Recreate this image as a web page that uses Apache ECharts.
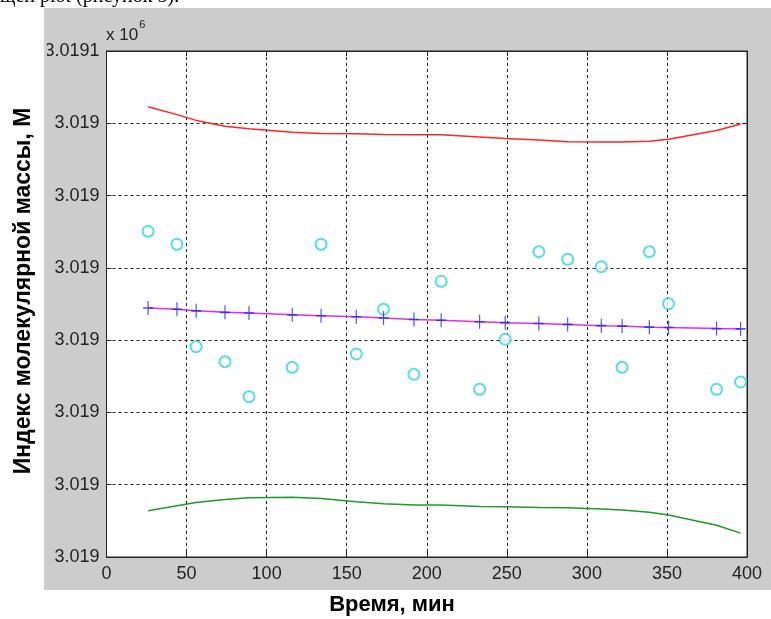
<!DOCTYPE html>
<html>
<head>
<meta charset="utf-8">
<script src="https://cdn.jsdelivr.net/npm/echarts@6/dist/echarts.min.js"></script>
<style>
  html, body { margin: 0; padding: 0; background: #fff; }
  #main { width: 771px; height: 619px; }
</style>
</head>
<body>
<div id="main"></div>
<script>
// время, мин
var times = [26, 44, 56, 74, 89, 116, 134, 156, 173, 192, 209, 233, 249, 270, 288, 309, 322, 339, 351, 381, 396]
// измеренные значения (кружки)
var measured = [3019075.06, 3019073.26, 3019059.09, 3019057.02, 3019052.18, 3019056.24, 3019073.26, 3019058.08, 3019064.27, 3019055.27,
  3019068.14, 3019053.2, 3019060.12, 3019072.24, 3019071.18, 3019070.16, 3019056.24, 3019072.24, 3019065.04, 3019053.2, 3019054.21]
// линия регрессии
var fitLine = [3019064.45, 3019064.27, 3019064.05, 3019063.85, 3019063.75, 3019063.5, 3019063.38, 3019063.24, 3019063.06, 3019062.85,
  3019062.75, 3019062.55, 3019062.42, 3019062.3, 3019062.18, 3019062.0, 3019061.95, 3019061.8, 3019061.75, 3019061.6, 3019061.55]
// верхняя граница
var upperBound = [3019092.3, 3019091.2, 3019090.4, 3019089.6, 3019089.25, 3019088.75, 3019088.6, 3019088.55, 3019088.45, 3019088.4,
  3019088.4, 3019088.1, 3019087.9, 3019087.7, 3019087.45, 3019087.4, 3019087.4, 3019087.5, 3019087.8, 3019089.0, 3019089.9]
// нижняя граница
var lowerBound = [3019036.4, 3019037.1, 3019037.55, 3019037.95, 3019038.2, 3019038.25, 3019038.1, 3019037.65, 3019037.35, 3019037.2,
  3019037.2, 3019037.0, 3019036.95, 3019036.85, 3019036.8, 3019036.65, 3019036.5, 3019036.2, 3019035.8, 3019034.4, 3019033.3]
// подписи оси Y (x 10^6)
var yTickLabels = ['3.019', '3.019', '3.019', '3.019', '3.019', '3.019', '3.019', '3.0191']
var yMin = 3019030
var yStep = 10

function pairs(ys) {
  return times.map(function (t, i) { return [t, ys[i]] })
}

var tickColor = '#222'
var labelFont = 'Liberation Sans, Arial, sans-serif'

var chart = echarts.init(document.getElementById('main'))
var options = {
  backgroundColor: '#fff',
  animation: false,
  grid: {
    left: 106.5,
    right: 24,
    top: 51,
    bottom: 62,
    show: true,
    backgroundColor: '#fff',
    borderColor: tickColor,
    borderWidth: 1
  },
  graphic: [
    // серая подложка рисунка
    { type: 'rect', z: -10, silent: true, shape: { x: 44, y: 8, width: 727, height: 582 }, style: { fill: '#cccccc' } },
    // обрезанная строка текста документа
    { type: 'text', left: 0, top: -13, silent: true, style: { text: 'щей plot (рисунок 5).', font: '20px "Liberation Serif", serif', fill: '#000' } },
    // обрез слева (как у исходного скриншота)
    { type: 'rect', z: 100, silent: true, shape: { x: 0, y: 35, width: 47, height: 30 }, style: { fill: '#fff' } },
    { type: 'rect', z: 101, silent: true, shape: { x: 44, y: 35, width: 3, height: 30 }, style: { fill: '#cccccc' } },
    {
      type: 'text', x: 106, y: 44, silent: true,
      style: {
        text: '{a|x 10}{b|6}',
        textVerticalAlign: 'bottom',
        rich: {
          a: { fontSize: 17, fontFamily: labelFont, fill: tickColor, verticalAlign: 'bottom' },
          b: { fontSize: 11, fontFamily: labelFont, fill: tickColor, verticalAlign: 'top', padding: [0, 0, 14, 1] }
        }
      }
    },
    {
      type: 'text', x: 392, y: 605, silent: true,
      style: { text: 'Время, мин', font: 'bold 22px ' + labelFont, fill: '#000', textAlign: 'center', textVerticalAlign: 'middle' }
    },
    {
      type: 'text', x: 24, y: 291, rotation: Math.PI / 2, silent: true,
      style: { text: 'Индекс молекулярной массы, М', font: 'bold 23px ' + labelFont, fill: '#000', textAlign: 'center', textVerticalAlign: 'middle' }
    }
  ],
  xAxis: [
    {
      type: 'value', min: 0, max: 400, interval: 50,
      axisLine: { show: true, onZero: false, lineStyle: { color: tickColor } },
      axisTick: { show: true, inside: true, length: 5, lineStyle: { color: tickColor } },
      axisLabel: { fontSize: 18, fontFamily: labelFont, color: tickColor, margin: 8 },
      splitLine: { show: true, lineStyle: { color: tickColor, type: [3, 3] } }
    },
    {
      type: 'value', min: 0, max: 400, interval: 50, position: 'top',
      axisLine: { show: true, onZero: false, lineStyle: { color: tickColor } },
      axisTick: { show: true, inside: true, length: 5, lineStyle: { color: tickColor } },
      axisLabel: { show: false },
      splitLine: { show: false }
    }
  ],
  yAxis: [
    {
      type: 'value', min: yMin, max: yMin + 7 * yStep, interval: yStep,
      axisLine: { show: true, onZero: false, lineStyle: { color: tickColor } },
      axisTick: { show: true, inside: true, length: 5, lineStyle: { color: tickColor } },
      axisLabel: {
        fontSize: 18, fontFamily: labelFont, color: tickColor, margin: 7,
        formatter: function (v) { return yTickLabels[Math.round((v - yMin) / yStep)] }
      },
      splitLine: { show: true, lineStyle: { color: tickColor, type: [3, 3] } }
    },
    {
      type: 'value', min: yMin, max: yMin + 7 * yStep, interval: yStep, position: 'right',
      axisLine: { show: true, onZero: false, lineStyle: { color: tickColor } },
      axisTick: { show: true, inside: true, length: 5, lineStyle: { color: tickColor } },
      axisLabel: { show: false },
      splitLine: { show: false }
    }
  ],
  series: [
    {
      name: 'верх', type: 'line', data: pairs(upperBound), showSymbol: false, symbol: 'none',
      lineStyle: { color: '#ff2525', width: 1.5 }
    },
    {
      name: 'низ', type: 'line', data: pairs(lowerBound), showSymbol: false, symbol: 'none',
      lineStyle: { color: '#1f9a28', width: 1.5 }
    },
    {
      name: 'измерения', type: 'scatter', data: pairs(measured),
      symbol: 'emptyCircle', symbolSize: 11,
      itemStyle: { color: '#2ed3df', borderColor: '#2ed3df', borderWidth: 1.4 }
    },
    {
      name: 'регрессия', type: 'line', data: pairs(fitLine), showSymbol: false, symbol: 'none',
      lineStyle: { color: '#e030e0', width: 1.5 }
    },
    {
      name: 'точки', type: 'scatter', data: pairs(fitLine), z: 5,
      symbol: 'path://M5,0L5,14M0,7L10,7', symbolSize: [10, 14],
      itemStyle: { color: 'none', borderColor: '#2424ff', borderWidth: 1.4 }
    }
  ]
}
chart.setOption(options)
</script>
</body>
</html>
